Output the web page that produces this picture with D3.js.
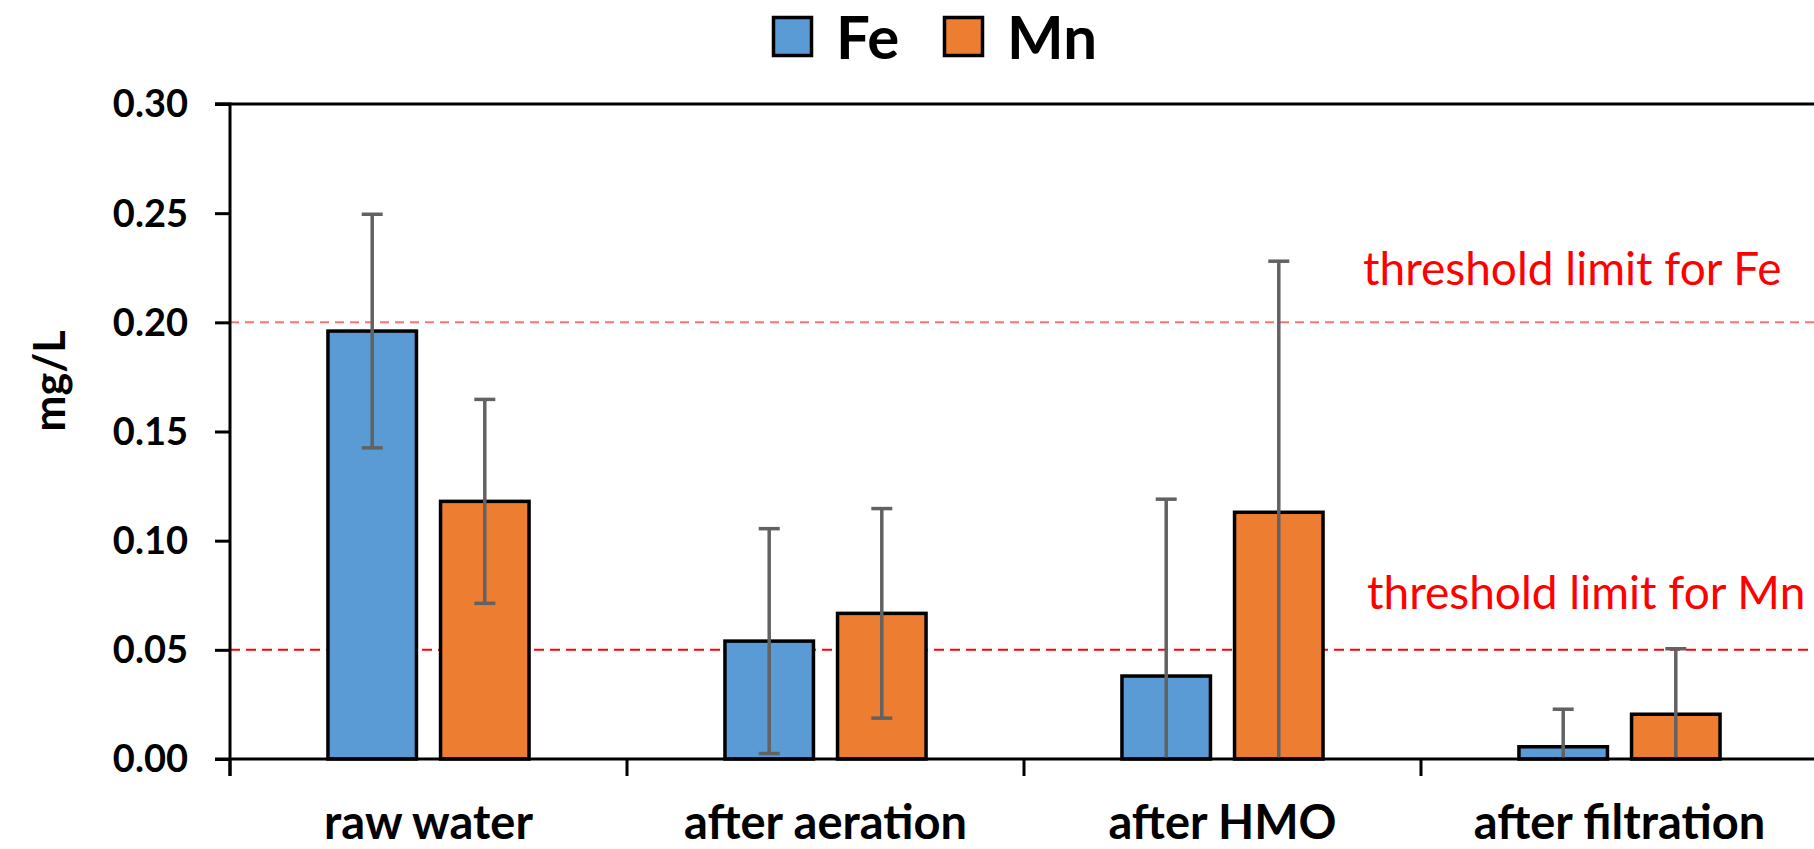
<!DOCTYPE html>
<html><head><meta charset="utf-8">
<script src="https://cdnjs.cloudflare.com/ajax/libs/d3/7.8.5/d3.min.js"></script>
<style>
html,body{margin:0;padding:0;background:#fff;overflow:hidden;}
svg{display:block;}
</style></head>
<body>
<svg id="chart" width="1814" height="849"></svg>
<script>
const categories = ["raw water", "after aeration", "after HMO", "after filtration"];
const seriesNames = ["Fe", "Mn"];
const feValues = [0.196, 0.054, 0.038, 0.0056];
const feErrors = [0.0535, 0.0515, 0.081, 0.0172];
const mnValues = [0.118, 0.0667, 0.113, 0.0205];
const mnErrors = [0.0467, 0.048, 0.115, 0.030];
const yTicks = [0, 0.05, 0.10, 0.15, 0.20, 0.25, 0.30];
const thresholdLabels = ["threshold limit for Fe", "threshold limit for Mn"];
const thresholdValues = [0.2, 0.05];
const colors = {Fe: "#5B9BD5", Mn: "#ED7D31"};

(function () {
const svg = d3.select("#chart");
const FONT = "Lato, 'Open Sans', sans-serif";

const mLeft = 230, mTop = 104, mBottom = 759, step = 397;
const y = d3.scaleLinear().domain([0, 0.3]).range([mBottom, mTop]);
const x0 = d3.scaleBand().domain(categories).range([mLeft, mLeft + step * categories.length]).paddingInner(0).paddingOuter(0);
const x1 = d3.scaleBand().domain(seriesNames).range([0, x0.bandwidth()]).paddingInner(0.214).paddingOuter(0.87);

const data = categories.map((c, i) => ({
  cat: c,
  items: [
    {s: "Fe", v: feValues[i], e: feErrors[i]},
    {s: "Mn", v: mnValues[i], e: mnErrors[i]}
  ]
}));

// threshold lines
svg.append("line").attr("x1", mLeft).attr("x2", 1814)
  .attr("y1", y(thresholdValues[0])).attr("y2", y(thresholdValues[0]))
  .attr("stroke", "#ff5a5a").attr("stroke-width", 2).attr("stroke-dasharray", "9,6").attr("opacity", 0.85);
svg.append("line").attr("x1", mLeft).attr("x2", 1814)
  .attr("y1", y(thresholdValues[1])).attr("y2", y(thresholdValues[1]))
  .attr("stroke", "#ff0000").attr("stroke-width", 2).attr("stroke-dasharray", "10,6");

// bars
const g = svg.append("g");
const groups = g.selectAll("g.cat").data(data).join("g")
  .attr("transform", d => `translate(${x0(d.cat)},0)`);
groups.selectAll("rect").data(d => d.items).join("rect")
  .attr("x", d => x1(d.s)).attr("width", x1.bandwidth())
  .attr("y", d => y(d.v)).attr("height", d => y(0) - y(d.v))
  .attr("fill", d => colors[d.s]).attr("stroke", "#000").attr("stroke-width", 3.5);

// error bars
const capW = 21;
groups.each(function(d) {
  const sel = d3.select(this);
  d.items.forEach(it => {
    const cx = x1(it.s) + x1.bandwidth() / 2;
    const hi = it.v + it.e, lo = Math.max(0, it.v - it.e);
    sel.append("line").attr("x1", cx).attr("x2", cx).attr("y1", y(hi)).attr("y2", y(lo))
      .attr("stroke", "#626262").attr("stroke-width", 3.5);
    sel.append("line").attr("x1", cx - capW / 2).attr("x2", cx + capW / 2).attr("y1", y(hi)).attr("y2", y(hi))
      .attr("stroke", "#626262").attr("stroke-width", 3.5);
    if (it.v - it.e > 0) {
      sel.append("line").attr("x1", cx - capW / 2).attr("x2", cx + capW / 2).attr("y1", y(lo)).attr("y2", y(lo))
        .attr("stroke", "#626262").attr("stroke-width", 3.5);
    }
  });
});

// top border
svg.append("line").attr("x1", mLeft - 15).attr("x2", 1814).attr("y1", mTop).attr("y2", mTop)
  .attr("stroke", "#000").attr("stroke-width", 3);

// y axis
const yAxis = d3.axisLeft(y).tickValues(yTicks).tickFormat(d3.format(".2f")).tickSize(15).tickPadding(27);
const ya = svg.append("g").attr("transform", `translate(${mLeft},0)`).call(yAxis);
ya.select(".domain").attr("stroke", "#000").attr("stroke-width", 3).attr("d", `M-15,${mTop}H0V${mBottom + 17}`);
ya.selectAll(".tick line").attr("stroke", "#000").attr("stroke-width", 3);
ya.selectAll(".tick text").attr("font-family", FONT).attr("font-weight", "bold").attr("font-size", 38).attr("fill", "#000").attr("dy", "0.34em");

// x axis
const xTickPos = d3.range(categories.length + 1).map(i => mLeft + i * step);
svg.append("line").attr("x1", mLeft - 15).attr("x2", 1814).attr("y1", mBottom).attr("y2", mBottom)
  .attr("stroke", "#000").attr("stroke-width", 3);
svg.selectAll("line.xt").data(xTickPos).join("line").attr("class", "xt")
  .attr("x1", d => d).attr("x2", d => d).attr("y1", mBottom).attr("y2", mBottom + 17)
  .attr("stroke", "#000").attr("stroke-width", 3);
svg.selectAll("text.xl").data(categories).join("text").attr("class", "xl")
  .attr("x", d => x0(d) + x0.bandwidth() / 2).attr("y", 839)
  .attr("text-anchor", "middle").attr("font-family", FONT).attr("font-weight", "bold")
  .attr("font-size", 47).attr("fill", "#000").text(d => d);

// y label
svg.append("text").attr("transform", "translate(65,381) rotate(-90)")
  .attr("text-anchor", "middle").attr("font-family", FONT).attr("font-weight", "bold")
  .attr("font-size", 43).attr("fill", "#000").text("mg/L");

// threshold labels
svg.append("text").attr("x", 1363).attr("y", 285).attr("font-family", FONT)
  .attr("font-size", 46).attr("fill", "#ff0000").text(thresholdLabels[0]);
svg.append("text").attr("x", 1367).attr("y", 609).attr("font-family", FONT)
  .attr("font-size", 46).attr("fill", "#ff0000").text(thresholdLabels[1]);

// legend
const legendX = [772, 943];
const leg = svg.selectAll("g.leg").data(seriesNames).join("g").attr("class", "leg")
  .attr("transform", (d, i) => `translate(${legendX[i]},16)`);
leg.append("rect").attr("x", 1.5).attr("y", 1.5).attr("width", 38).attr("height", 38)
  .attr("fill", d => colors[d]).attr("stroke", "#000").attr("stroke-width", 3.5);
leg.append("text").attr("x", 64).attr("y", 43).attr("font-family", FONT).attr("font-weight", "bold")
  .attr("font-size", 60).attr("fill", "#000").text(d => d);
})();
</script>
</body></html>
